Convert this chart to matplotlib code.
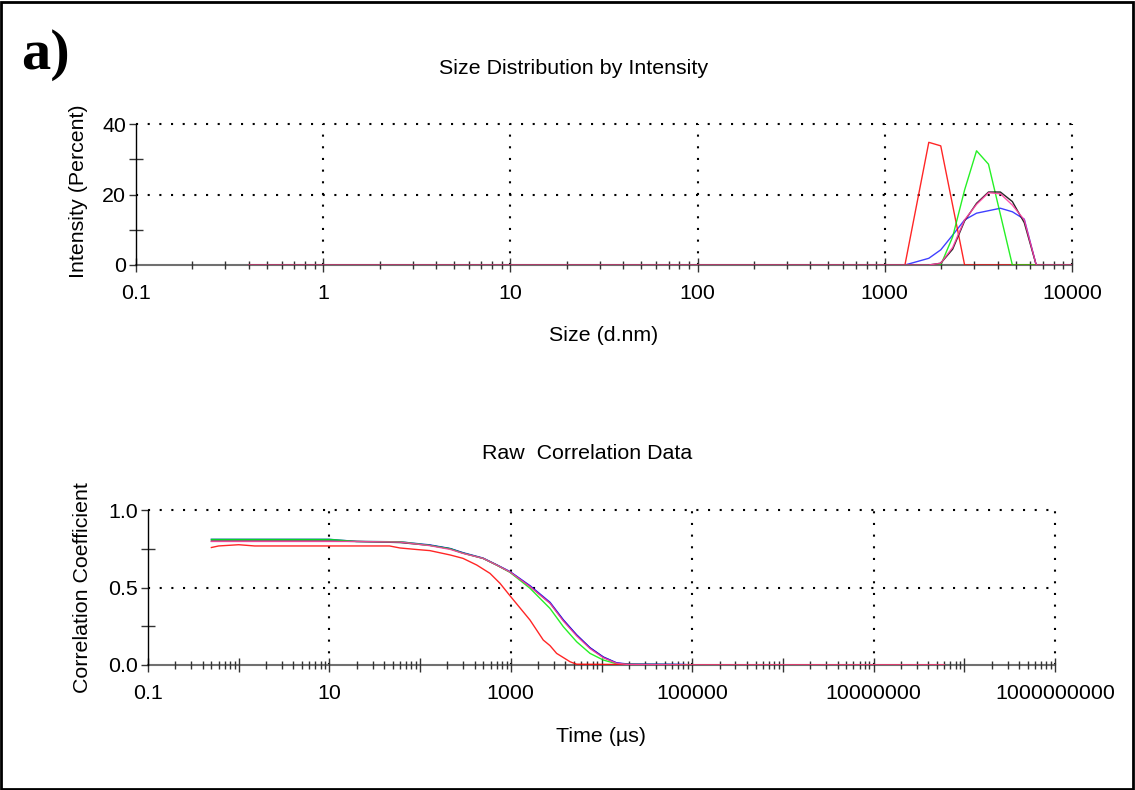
import numpy as np
import matplotlib.pyplot as plt
from matplotlib.ticker import FixedLocator, FuncFormatter, NullFormatter
from matplotlib.patches import Rectangle

plt.rcParams['font.family'] = ['Liberation Sans', 'DejaVu Sans']

# Size distribution by intensity (d.nm vs %)
red_size = [0.4, 1281, 1718, 1990, 2669, 10000]
red_int = [0, 0, 34.8, 33.8, 0, 0]
green_size = [0.4, 1990, 2305, 2669, 3091, 3580, 4801, 10000]
green_int = [0, 0, 8.0, 21.3, 32.4, 28.6, 0, 0]
blue_size = [0.4, 1281, 1718, 1990, 2305, 2669, 3091, 3580, 4145, 4801, 5560, 6439, 10000]
blue_int = [0, 0, 1.9, 4.3, 8.5, 12.8, 14.7, 15.4, 16.1, 15.1, 13.0, 0, 0]
black_size = [0.4, 1718, 1990, 2305, 2669, 3091, 3580, 4145, 4801, 5560, 6439, 10000]
black_int = [0, 0, 0.5, 4.5, 12.5, 17.5, 20.7, 20.7, 18.0, 12.0, 0, 0]
pink_size = [0.4, 1718, 1990, 2305, 2669, 3091, 3580, 4145, 4801, 5560, 6439, 10000]
pink_int = [0, 0, 0.5, 5.0, 12.8, 17.2, 20.5, 20.2, 17.0, 12.8, 0, 0]

# Raw correlation data (time in us)
t_grid = [0.5, 10, 20, 60, 128, 214, 297, 494, 698, 979, 1628, 2705, 3795,
          5320, 7470, 10470, 14700, 20000, 50000, 80000, 1e5, 6e7]
blue_g = [0.811, 0.811, 0.797, 0.795, 0.775, 0.752, 0.725, 0.690, 0.647, 0.603, 0.512, 0.405,
          0.292, 0.195, 0.112, 0.052, 0.014, 0.006, 0.005, 0.004, 0.0, 0.0]
black_g = [0.800, 0.800, 0.797, 0.790, 0.772, 0.750, 0.722, 0.688, 0.645, 0.600, 0.508, 0.400,
           0.288, 0.192, 0.110, 0.050, 0.012, 0.004, 0.003, 0.002, 0.0, 0.0]
pink_g = [0.797, 0.797, 0.797, 0.793, 0.770, 0.746, 0.720, 0.688, 0.645, 0.600, 0.506, 0.398,
          0.284, 0.188, 0.106, 0.047, 0.011, 0.003, 0.002, 0.0, 0.0, 0.0]
green_g = [0.810, 0.810, 0.797, 0.795, 0.772, 0.750, 0.722, 0.688, 0.645, 0.598, 0.495, 0.365,
           0.247, 0.150, 0.075, 0.032, 0.008, 0.004, 0.003, 0.002, 0.0, 0.0]
t_red = [0.5, 0.6, 1, 1.5, 46, 60, 92, 128, 214, 297, 421, 590, 760, 979, 1628, 2280,
         2705, 3200, 4500, 5320, 1e5, 6e7]
red_g = [0.758, 0.768, 0.776, 0.768, 0.768, 0.755, 0.745, 0.738, 0.710, 0.688, 0.645, 0.591,
         0.527, 0.447, 0.290, 0.161, 0.125, 0.075, 0.021, 0.005, 0.0, 0.0]

RED, GREEN, BLUE, BLACK, PINK = '#ff0000', '#00ee00', '#0000ff', '#000000', '#ff40a0'
W, H = 1135, 790
FS = 15.4

fig = plt.figure(figsize=(W / 100, H / 100), dpi=100)
fig.patch.set_facecolor('white')
fig.add_artist(Rectangle((0.001, 0.001), 0.997, 0.997, transform=fig.transFigure,
                         fill=False, edgecolor='black', lw=2))


def style_axes(ax, xmin, xmax, ymax, ymajor, yminor, xgrid, ygrid, xmajor, xlabels, yfmt):
    ax.set_xscale('log')
    ax.set_xlim(xmin, xmax)
    ax.set_ylim(0, ymax)
    for s in ['top', 'right']:
        ax.spines[s].set_visible(False)
    ax.spines['left'].set_color('black')
    ax.spines['left'].set_linewidth(1.0)
    ax.spines['bottom'].set_color('#707070')
    ax.spines['bottom'].set_linewidth(1.5)
    ax.spines['bottom'].set_zorder(0.5)

    ax.xaxis.set_major_locator(FixedLocator(xmajor))
    ax.xaxis.set_major_formatter(FuncFormatter(
        lambda v, p: xlabels.get(round(np.log10(v)), '')))
    minors = [m * 10.0 ** e for e in range(int(np.log10(xmin)), int(np.log10(xmax)))
              for m in range(2, 10)]
    ax.xaxis.set_minor_locator(FixedLocator(minors))
    ax.xaxis.set_minor_formatter(NullFormatter())
    ax.tick_params(axis='x', which='major', direction='inout', length=10, width=1,
                   color='#333333', labelsize=FS, pad=9)
    ax.tick_params(axis='x', which='minor', direction='inout', length=6, width=1,
                   color='#333333')

    ax.set_yticks(ymajor)
    ax.set_yticks(yminor, minor=True)
    ax.yaxis.set_major_formatter(FuncFormatter(yfmt))
    ax.tick_params(axis='y', which='major', direction='out', length=5, width=1,
                   color='#333333', labelsize=FS, pad=2)
    ax.tick_params(axis='y', which='minor', direction='inout', length=10, width=1,
                   color='#333333')

    # dotted grid, drawn unclipped so the lines at the limits show in full
    for gx in xgrid:
        ax.axvline(gx, color='black', lw=1.5, ls=(0, (1, 4.6)), clip_on=False, zorder=0.4)
    for gy in ygrid:
        ax.axhline(gy, color='black', lw=1.5, ls=(0, (1, 4.6)), clip_on=False, zorder=0.4)


# --- top panel: size distribution ---
ax1 = fig.add_axes([136 / W, 1 - 265 / H, 936 / W, 141 / H])
size_labels = {-1: '0.1', 0: '1', 1: '10', 2: '100', 3: '1000', 4: '10000'}
style_axes(ax1, 0.1, 10000, 40, [0, 20, 40], [10, 30],
           [1, 10, 100, 1000, 10000], [20, 40],
           [10.0 ** e for e in range(-1, 5)], size_labels,
           lambda v, p: f'{v:.0f}')
lw = 1.0
ax1.plot(blue_size, blue_int, color=BLUE, lw=lw, alpha=0.75)
ax1.plot(red_size, red_int, color=RED, lw=lw, alpha=0.85)
ax1.plot(green_size, green_int, color=GREEN, lw=lw, alpha=0.85)
ax1.plot(black_size, black_int, color=BLACK, lw=lw, alpha=0.85)
ax1.plot(pink_size, pink_int, color=PINK, lw=lw, alpha=0.9)

# --- bottom panel: raw correlation data ---
ax2 = fig.add_axes([148 / W, 1 - 665 / H, 907 / W, 155 / H])
time_labels = {-1: '0.1', 1: '10', 3: '1000', 5: '100000', 7: '10000000', 9: '1000000000'}
style_axes(ax2, 0.1, 1e9, 1.0, [0, 0.5, 1.0], [0.25, 0.75],
           [10, 1000, 1e5, 1e7, 1e9], [0.5, 1.0],
           [10.0 ** e for e in range(-1, 10)], time_labels,
           lambda v, p: f'{v:.1f}')
ax2.plot(t_grid, black_g, color=BLACK, lw=lw, alpha=0.85)
ax2.plot(t_grid, blue_g, color=BLUE, lw=lw, alpha=0.8)
ax2.plot(t_grid, green_g, color=GREEN, lw=lw, alpha=0.85)
ax2.plot(t_red, red_g, color=RED, lw=lw, alpha=0.85)
ax2.plot(t_grid, pink_g, color=PINK, lw=lw, alpha=0.9)

# titles and axis labels
fig.text(574 / W, 1 - 69 / H, 'Size Distribution by Intensity', ha='center', va='center', fontsize=FS)
fig.text(604 / W, 1 - 335 / H, 'Size (d.nm)', ha='center', va='center', fontsize=FS)
fig.text(79 / W, 1 - 191 / H, 'Intensity (Percent)', ha='center', va='center',
         rotation=90, fontsize=FS)
fig.text(587 / W, 1 - 454 / H, 'Raw  Correlation Data', ha='center', va='center', fontsize=FS)
fig.text(601 / W, 1 - 737 / H, 'Time (µs)', ha='center', va='center', fontsize=FS)
fig.text(83 / W, 1 - 588 / H, 'Correlation Coefficient', ha='center', va='center',
         rotation=90, fontsize=FS)

fig.text(21 / W, 1 - 69 / H, 'a)', ha='left', va='baseline', fontsize=42,
         fontweight='bold', family='Liberation Serif')

fig.savefig('out.png', dpi=100)
